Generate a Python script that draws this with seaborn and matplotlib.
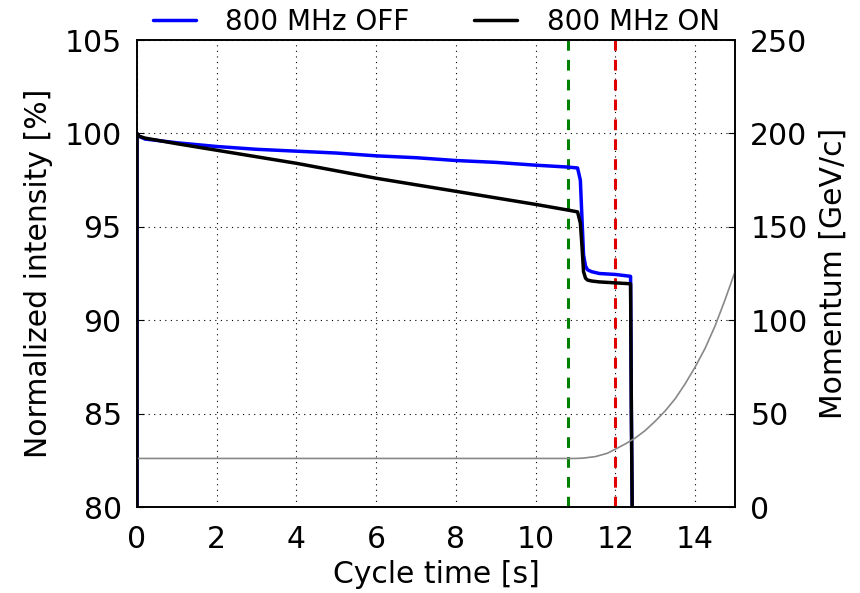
import matplotlib
matplotlib.use("Agg")
import matplotlib.pyplot as plt
import seaborn as sns
import pandas as pd

# Intensity, 800 MHz OFF (blue)
t_off = [0.0, 0.0, 0.05, 0.2, 1.0, 2.0, 3.0, 4.0, 5.0, 6.0, 7.0, 8.0, 9.0, 10.0, 10.8, 11.05,
         11.12, 11.16, 11.2, 11.25, 11.3, 11.4, 11.6, 12.0, 12.38, 12.4, 12.42]
i_off = [80.0, 100.0, 99.85, 99.7, 99.5, 99.3, 99.15, 99.05, 98.95, 98.8, 98.7, 98.55, 98.45, 98.3, 98.2, 98.15,
         97.5, 95.5, 93.5, 92.9, 92.7, 92.6, 92.5, 92.45, 92.35, 85.0, 80.0]

# Intensity, 800 MHz ON (black)
t_on = [0.0, 0.0, 0.05, 0.2, 1.0, 2.0, 3.0, 4.0, 5.0, 6.0, 7.0, 8.0, 9.0, 10.0, 10.8, 11.05,
        11.12, 11.16, 11.2, 11.25, 11.3, 11.4, 11.6, 12.0, 12.38, 12.4, 12.42]
i_on = [80.0, 100.0, 99.85, 99.75, 99.45, 99.1, 98.75, 98.4, 98.0, 97.6, 97.25, 96.9, 96.55, 96.2, 95.9, 95.8,
        95.2, 94.0, 92.6, 92.25, 92.15, 92.1, 92.05, 92.0, 91.95, 85.0, 80.0]

# Momentum (right axis, gray)
t_mom = [0.0, 11.0, 11.2, 11.5, 11.8, 12.0, 12.25, 12.5, 12.75, 13.0, 13.25, 13.5, 13.75, 14.0, 14.25, 14.5, 14.75, 15.0]
p_mom = [26.0, 26.0, 26.2, 27.0, 28.8, 31.0, 33.8, 37.0, 41.0, 46.0, 51.5, 58.0, 66.0, 75.0, 85.0, 97.0, 111.0, 126.0]

vline_times = [10.8, 12.0]
vline_colors = ["#008000", "#e00000"]

sns.set_style("white")
plt.rcParams["font.family"] = ["DejaVu Sans"]
plt.rcParams["text.color"] = "black"
plt.rcParams["axes.labelcolor"] = "black"
plt.rcParams["xtick.color"] = "black"
plt.rcParams["ytick.color"] = "black"

FS = 21.5

fig = plt.figure(figsize=(8.6, 5.93), dpi=100)
ax = fig.add_axes([0.1593, 0.145, 0.6954, 0.7875])

df_off = pd.DataFrame({"t": t_off, "I": i_off})
df_on = pd.DataFrame({"t": t_on, "I": i_on})
sns.lineplot(data=df_off, x="t", y="I", ax=ax, color="#0000ff", lw=2.5, sort=False,
             estimator=None, label="800 MHz OFF")
sns.lineplot(data=df_on, x="t", y="I", ax=ax, color="black", lw=2.5, sort=False,
             estimator=None, label="800 MHz ON")

for tv, c in zip(vline_times, vline_colors):
    ax.axvline(tv, color=c, lw=2.2, ls=(0, (3.5, 3.0)), zorder=1)

ax.set_xlim(0, 15)
ax.set_ylim(80, 105)
ax.set_xticks(range(0, 15, 2))
ax.set_yticks(range(80, 106, 5))
ax.grid(True, color="black", ls=(0, (1, 4)), lw=0.8)
ax.set_xlabel("Cycle time [s]", fontsize=FS, labelpad=4)
ax.set_ylabel("Normalized intensity [%]", fontsize=FS, labelpad=8)
ax.tick_params(axis="y", direction="in", length=5, labelsize=FS, pad=11, right=False)
ax.tick_params(axis="x", direction="in", length=5, labelsize=FS, pad=13, top=False)
for s in ax.spines.values():
    s.set_color("black")
    s.set_linewidth(1.2)

ax2 = ax.twinx()
df_m = pd.DataFrame({"t": t_mom, "p": p_mom})
sns.lineplot(data=df_m, x="t", y="p", ax=ax2, color="#888888", lw=1.2, sort=False, estimator=None)
ax2.set_ylim(0, 250)
ax2.set_yticks(range(0, 251, 50))
ax2.set_ylabel("Momentum [GeV/c]", fontsize=FS, labelpad=8)
ax2.tick_params(direction="in", length=5, labelsize=FS, pad=11)
for s in ax2.spines.values():
    s.set_color("black")
    s.set_linewidth(1.2)

leg = ax.legend(loc="lower center", bbox_to_anchor=(0.5, 0.985), ncol=2, frameon=False,
                fontsize=20, handlelength=1.55, columnspacing=2.35, handletextpad=1.05, borderaxespad=0.0)

fig.savefig("out.png", dpi=100)
